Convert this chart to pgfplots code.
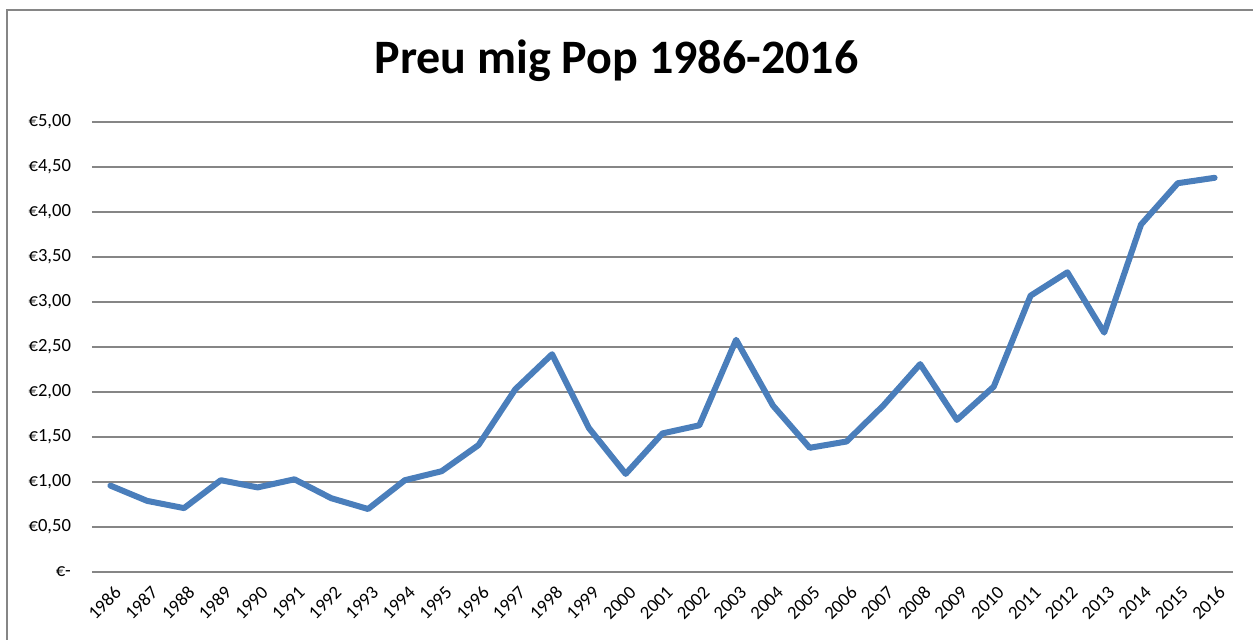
\documentclass[border=0pt]{standalone}
\usepackage{pgfplots}
\pgfplotsset{compat=1.18}
\usepackage{fontspec}
\setmainfont{Carlito}
\definecolor{linecol}{RGB}{74,126,187}
\definecolor{gridcol}{RGB}{134,134,134}
\begin{document}
\begin{tikzpicture}
\useasboundingbox (0,0) rectangle (626.5pt,319.5pt);
\draw[gridcol, line width=1pt] (3.5pt,-2pt) -- (3.5pt,314.5pt) -- (630pt,314.5pt);
\node[anchor=base, font=\fontsize{24}{28}\selectfont\bfseries] at (308.25pt,283pt) {Preu mig Pop 1986-2016};
\begin{axis}[
  at={(46pt,33.5pt)}, anchor=south west,
  scale only axis, width=570.5pt, height=225pt,
  xmin=1985.5, xmax=2016.5, ymin=0, ymax=5,
  axis line style={draw=none},
  ymajorgrids, grid style={gridcol, line width=1pt},
  major tick length=0pt,
  xtick={1986,1987,1988,1989,1990,1991,1992,1993,1994,1995,1996,1997,1998,1999,2000,2001,2002,2003,2004,2005,2006,2007,2008,2009,2010,2011,2012,2013,2014,2015,2016},
  xticklabels={1986,1987,1988,1989,1990,1991,1992,1993,1994,1995,1996,1997,1998,1999,2000,2001,2002,2003,2004,2005,2006,2007,2008,2009,2010,2011,2012,2013,2014,2015,2016},
  ytick={0,0.5,1,1.5,2,2.5,3,3.5,4,4.5,5},
  yticklabels={{€-\hspace{4pt}},{€0,50},{€1,00},{€1,50},{€2,00},{€2,50},{€3,00},{€3,50},{€4,00},{€4,50},{€5,00}},
  x tick label style={rotate=45, anchor=north east, font=\fontsize{9.3}{11}\selectfont, inner sep=0.5pt, yshift=-5pt, xshift=-3pt},
  y tick label style={font=\fontsize{9.3}{11}\selectfont, xshift=-7pt},
  clip=false,
]
\addplot[linecol, line width=3pt, line join=round, line cap=round] coordinates {
(1986,0.96) (1987,0.79) (1988,0.71) (1989,1.02) (1990,0.94) (1991,1.03)
(1992,0.82) (1993,0.70) (1994,1.02) (1995,1.12) (1996,1.41) (1997,2.03)
(1998,2.42) (1999,1.60) (2000,1.09) (2001,1.54) (2002,1.63) (2003,2.58)
(2004,1.85) (2005,1.38) (2006,1.45) (2007,1.85) (2008,2.31) (2009,1.69)
(2010,2.06) (2011,3.07) (2012,3.33) (2013,2.66) (2014,3.86) (2015,4.32)
(2016,4.38)};
\end{axis}
\end{tikzpicture}
\end{document}
